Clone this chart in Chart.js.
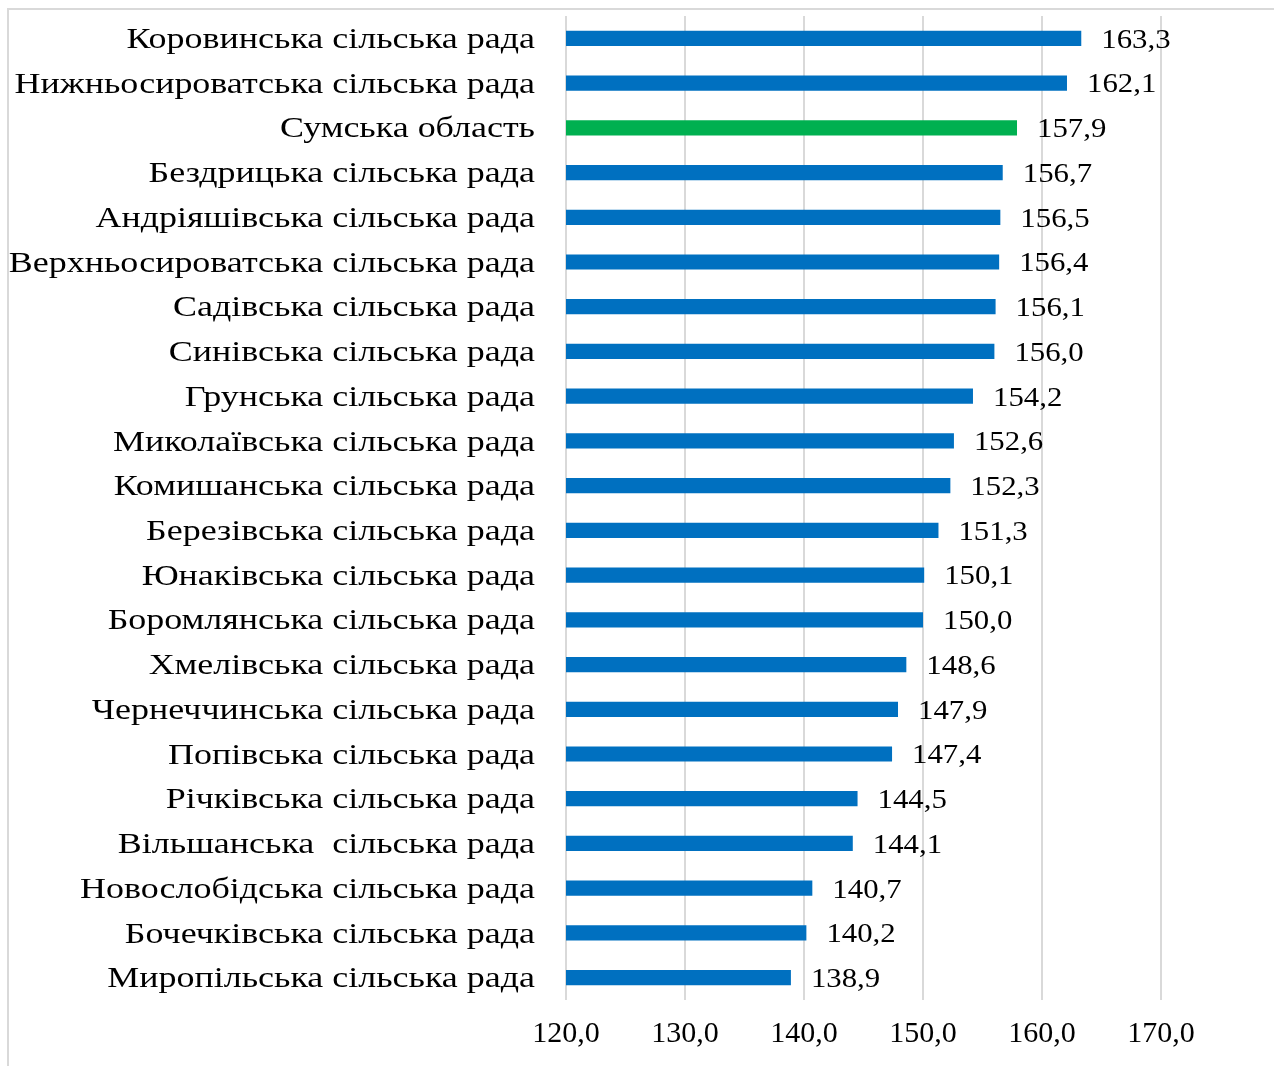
<!DOCTYPE html>
<html lang="uk">
<head>
<meta charset="UTF-8">
<title>Сільські ради</title>
<script src="https://cdn.jsdelivr.net/npm/chart.js"></script>
<style>
    html, body { margin: 0; padding: 0; background: #fff; overflow: hidden; }
    .frame {
        position: absolute; left: 7px; top: 8px;
        width: 1300px; height: 1100px;
        border: 2px solid #d9d9d9;
    }
    .wrap { position: absolute; left: 9px; top: 10px; width: 1265px; height: 1056px; }
</style>
</head>
<body>
<div class="frame"></div>
<div class="wrap"><canvas id="chart"></canvas></div>
<script>
    // Дані з діаграми
    const labels = [
        'Коровинська сільська рада',
        'Нижньосироватська сільська рада',
        'Сумська область',
        'Бездрицька сільська рада',
        'Андріяшівська сільська рада',
        'Верхньосироватська сільська рада',
        'Садівська сільська рада',
        'Синівська сільська рада',
        'Грунська сільська рада',
        'Миколаївська сільська рада',
        'Комишанська сільська рада',
        'Березівська сільська рада',
        'Юнаківська сільська рада',
        'Боромлянська сільська рада',
        'Хмелівська сільська рада',
        'Чернеччинська сільська рада',
        'Попівська сільська рада',
        'Річківська сільська рада',
        'Вільшанська  сільська рада',
        'Новослобідська сільська рада',
        'Бочечківська сільська рада',
        'Миропільська сільська рада'
    ];
    const values = [163.3, 162.1, 157.9, 156.7, 156.5, 156.4, 156.1, 156.0, 154.2, 152.6, 152.3,
                    151.3, 150.1, 150.0, 148.6, 147.9, 147.4, 144.5, 144.1, 140.7, 140.2, 138.9];
    const highlight = 'Сумська область';
    const xMin = 120, xMax = 170, xStep = 10;

    const fmt = v => Number(v).toFixed(1).replace('.', ',');
    const serif = '"Liberation Serif", "Times New Roman", serif';

    // Назви рад ліворуч (трохи розтягнуті по горизонталі, як в оригіналі)
    const categoryLabels = {
        id: 'categoryLabels',
        afterDraw(chart) {
            const ctx = chart.ctx;
            const yScale = chart.scales.y;
            const right = chart.chartArea.left - 31;
            ctx.save();
            ctx.font = '29px ' + serif;
            ctx.fillStyle = '#000';
            ctx.textBaseline = 'middle';
            ctx.textAlign = 'right';
            labels.forEach((l, i) => {
                ctx.save();
                ctx.translate(right, yScale.getPixelForTick(i) + 2);
                ctx.scale(1.24, 1);
                ctx.fillText(l, 0, 0);
                ctx.restore();
            });
            ctx.restore();
        }
    };

    // Підписи значень праворуч від стовпчиків
    const valueLabels = {
        id: 'valueLabels',
        afterDatasetsDraw(chart) {
            const ctx = chart.ctx;
            const meta = chart.getDatasetMeta(0);
            ctx.save();
            ctx.font = '28px ' + serif;
            ctx.fillStyle = '#000';
            ctx.textBaseline = 'middle';
            ctx.textAlign = 'left';
            meta.data.forEach((bar, i) => {
                ctx.save();
                ctx.translate(bar.x + 20, bar.y + 2);
                ctx.scale(1.1, 1);
                ctx.fillText(fmt(values[i]), 0, 0);
                ctx.restore();
            });
            ctx.restore();
        }
    };

    new Chart(document.getElementById('chart'), {
        type: 'bar',
        data: {
            labels: labels,
            datasets: [{
                data: values,
                backgroundColor: labels.map(l => l === highlight ? '#00b050' : '#0070c0'),
                barPercentage: 0.68,
                categoryPercentage: 0.5
            }]
        },
        options: {
            indexAxis: 'y',
            responsive: true,
            maintainAspectRatio: false,
            animation: false,
            layout: { padding: { top: 6, right: 113, bottom: 0, left: 0 } },
            plugins: {
                legend: { display: false },
                tooltip: { enabled: false }
            },
            scales: {
                x: {
                    min: xMin,
                    max: xMax,
                    ticks: {
                        stepSize: xStep,
                        padding: 16,
                        color: '#000',
                        font: { family: serif, size: 30 },
                        callback: v => fmt(v)
                    },
                    grid: { color: '#d9d9d9', lineWidth: 2, drawTicks: false },
                    border: { display: false },
                    afterFit(axis) { axis.height = 66; }
                },
                y: {
                    ticks: { display: false },
                    grid: { display: false, drawTicks: false },
                    border: { display: false },
                    afterFit(axis) {
                        axis.width = 557;
                        axis.paddingTop = 0;
                        axis.paddingBottom = 0;
                    }
                }
            }
        },
        plugins: [valueLabels, categoryLabels]
    });
</script>
</body>
</html>
